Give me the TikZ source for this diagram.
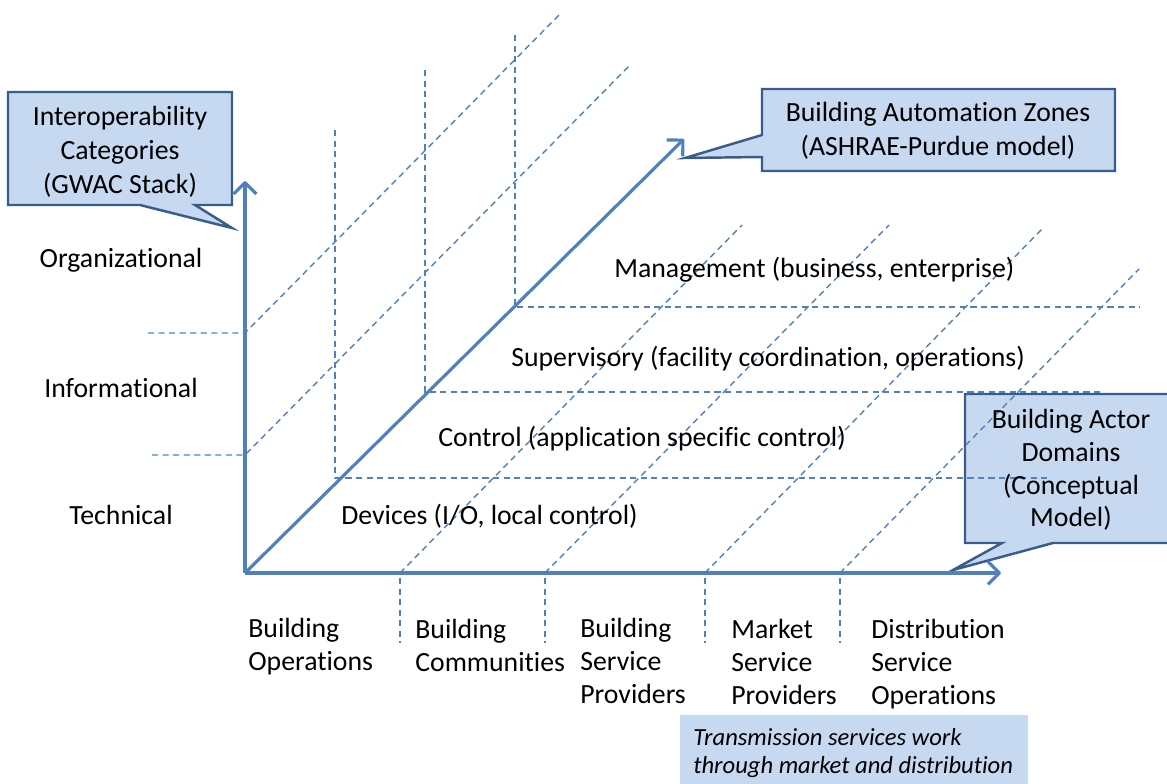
\documentclass[tikz,border=0pt]{standalone}
\usepackage{fontspec}
\setmainfont{Carlito}[Ligatures=NoCommon]
\usepackage{tikz}
\usetikzlibrary{arrows.meta,positioning}
\definecolor{axisblue}{HTML}{4F81BD}
\definecolor{boxfill}{HTML}{C6D9F1}
\definecolor{boxline}{HTML}{385D8A}

\begin{document}
\begin{tikzpicture}[x=0.02cm,y=-0.02cm]
        \tikzstyle{main node}=[inner sep=0pt,font=\fontsize{15.8}{18.6}\selectfont]
        \tikzstyle{box text}=[main node,align=center,font=\fontsize{15.8}{19.2}\selectfont]
        \tikzstyle{label node}=[main node,align=left,anchor=base west]
        \tikzstyle{axis}=[axisblue,line width=1.8pt,-{Straight Barb[length=6.5pt,width=13pt,line join=round]}]
        \tikzstyle{grid}=[axisblue,line width=0.8pt,dash pattern=on 3.5pt off 2.5pt]
        \tikzstyle{callout}=[fill=boxfill,draw=boxline,line width=1.4pt,line join=miter]
        \useasboundingbox (0,0) rectangle (1167,784);

        % callout shapes
        \filldraw[callout] (8,92) -- (232,92) -- (232,205) -- (195,205) -- (232,228) -- (140,205) -- (8,205) -- cycle;
        \filldraw[callout] (762,89) -- (1115,89) -- (1115,171) -- (762,171) -- (762,157) -- (685,158) -- (762,135) -- cycle;
        \filldraw[callout] (965,394) -- (1175,394) -- (1175,543) -- (1053,543) -- (953,570) -- (1002,543) -- (965,543) -- cycle;
        \fill[boxfill] (680,715) rectangle (1028,790);

        % dashed grid
        \draw[grid] (148,333) -- (245,333) -- (561,13);
        \draw[grid] (152,455) -- (245,455) -- (630,65);
        \foreach \x/\y/\top/\right in {335/478/130/1048, 425/392/70/1100, 515/307/35/1140}
            \draw[grid] (\x,\top) -- (\x,\y) -- (\right,\y);
        \foreach \x/\ex/\ey in {400/742/225, 545/889/225, 705/1043/228, 840/1139/269} {
            \draw[grid] (\x,573) -- (\ex,\ey);
            \draw[grid] (\x,578) -- (\x,643);
        }

        % axes
        \coordinate (Origin) at (245,573);
        \coordinate (Stack) at (245,181);
        \coordinate (Domains) at (1001,573);
        \coordinate (Zones) at (684,139);
        \draw[axis] (Origin) -- (Stack);
        \draw[axis] (Origin) -- (Domains);
        \draw[axis] (Origin) -- (Zones);

        % callout texts
        \node[box text] (GWAC) at (120,152) {Interoperability\\Categories\\(GWAC Stack)};
        \node[box text] (ASHRAE) at (938,131) {Building Automation Zones\\(ASHRAE-Purdue model)};
        \node[box text,font=\fontsize{15.8}{18.6}\selectfont] (Actors) at (1071,470) {Building Actor\\Domains\\(Conceptual\\Model)};

        % categories
        \tikzstyle{category}=[main node,node distance=2.55cm]
        \node[category] (Organizational) at (121,260) {Organizational};
        \node[category] (Informational) [below of=Organizational] {Informational};
        \node[category] (Technical) [below of=Informational] {Technical};

        % zones
        \node[main node,anchor=west] (Management) at (614,270) {Management (business, enterprise)};
        \node[main node,anchor=west] (Supervisory) at (511,359) {Supervisory (facility coordination, operations)};
        \node[main node,anchor=west] (Control) at (438,439) {Control (application specific control)};
        \node[main node,anchor=west] (Devices) at (341,516) {Devices (I/O, local control)};

        % domains
        \node[label node] (Operations) at (248,670) {Building\\Operations};
        \node[label node] (Communities) at (415,671) {Building\\Communities};
        \node[label node] (ServiceProviders) at (580,703) {Building\\Service\\Providers};
        \node[label node] (MarketProviders) at (731,704) {Market\\Service\\Providers};
        \node[label node] (Distribution) at (871,704) {Distribution\\Service\\Operations};

        \node[main node,align=left,anchor=west,font=\fontsize{14}{16.4}\selectfont\itshape] (Transmission) at (693,753) {Transmission services work\\through market and distribution};
\end{tikzpicture}
\end{document}
